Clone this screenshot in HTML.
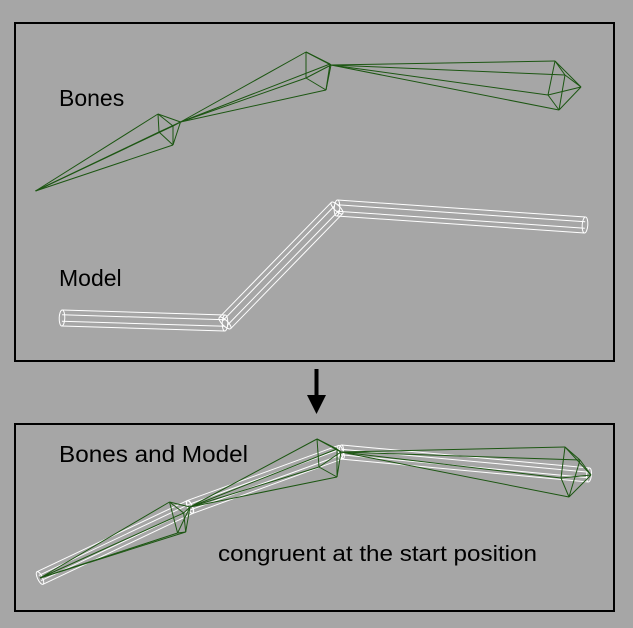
<!DOCTYPE html>
<html><head><meta charset="utf-8"><style>
html,body{margin:0;padding:0;background:#a6a6a6;}
svg{display:block;}
text{font-family:"Liberation Sans",sans-serif;fill:#000;}
</style></head><body>
<svg id="s" width="633" height="628" viewBox="0 0 633 628" xmlns="http://www.w3.org/2000/svg">
<rect x="0" y="0" width="633" height="628" fill="#a6a6a6"/>
<rect x="15" y="23" width="599" height="338" fill="none" stroke="#000" stroke-width="2"/>
<rect x="15" y="424" width="599" height="187" fill="none" stroke="#000" stroke-width="2"/>
<g>
<rect x="314.5" y="369" width="4" height="28" fill="#000"/>
<polygon points="307,395 326,395 316.5,414" fill="#000"/>
</g>
<text x="59" y="106" font-size="23">Bones</text>
<text x="59" y="286" font-size="23">Model</text>
<text x="59" y="462" font-size="23" textLength="189" lengthAdjust="spacingAndGlyphs">Bones and Model</text>
<text x="218" y="561" font-size="22" textLength="319" lengthAdjust="spacingAndGlyphs">congruent at the start position</text>
<g id="g1"></g>
<g id="g2"></g>
<g id="g3"></g>
<g id="g4"></g>
</svg>
<script>
var NS="http://www.w3.org/2000/svg";
var topBones=[
 {s:[35.5,191],b:[[158,114],[173,126],[173,145],[159,132]],e:[180.5,122]},
 {s:[180.5,122],b:[[306,52],[330,64],[326,90],[306,78]],e:[331,65]},
 {s:[331,65],b:[[555,61],[565,75],[559,110],[548,95]],e:[581,87]}
];
var botBones=[
 {s:[40,578],b:[[169.5,502],[183.7,513],[185.7,532],[177.6,533]],e:[190,507]},
 {s:[190,507],b:[[317,439],[337,449],[337,477],[319,467]],e:[341,452]},
 {s:[341,452],b:[[565,447],[580,460],[569,497],[561,478]],e:[591,475]}
];
var topModel=[[62,318],[225,323],[337,208],[585,225]];
var botModel=[[40,578],[190,507],[341,452],[589,475]];
function line(g,a,b,c,w){
 var l=document.createElementNS(NS,'line');
 
 
 l.setAttribute('x1',a[0]);l.setAttribute('y1',a[1]);l.setAttribute('x2',b[0]);l.setAttribute('y2',b[1]);
 l.setAttribute('stroke',c);l.setAttribute('stroke-width',w);
 g.appendChild(l);
}
function bone(g,B){
 var c='#1c5612';
 for(var i=0;i<4;i++){line(g,B.s,B.b[i],c,1);line(g,B.b[i],B.b[(i+1)%4],c,1);line(g,B.b[i],B.e,c,1);}
}
function tube(g,pts,r){
 for(var i=0;i<pts.length-1;i++){
  var p=pts[i],q=pts[i+1],dx=q[0]-p[0],dy=q[1]-p[1],L=Math.hypot(dx,dy),nx=-dy/L,ny=dx/L;
  [-r,-r*0.4,r*0.4,r].forEach(function(o){line(g,[p[0]+nx*o,p[1]+ny*o],[q[0]+nx*o,q[1]+ny*o],'#fff',1);});
  var ang=Math.atan2(dy,dx)*180/Math.PI;
  [p,q].forEach(function(c){
   var e=document.createElementNS(NS,'ellipse');
   
   
   e.setAttribute('cx',c[0]);e.setAttribute('cy',c[1]);e.setAttribute('rx',r*0.35);e.setAttribute('ry',r);
   e.setAttribute('transform','rotate('+ang+' '+c[0]+' '+c[1]+')');
   e.setAttribute('fill','none');e.setAttribute('stroke','#fff');e.setAttribute('stroke-width','1');
   g.appendChild(e);
  });
 }
}
topBones.forEach(function(B){bone(document.getElementById('g1'),B);});
tube(document.getElementById('g2'),topModel,8);
tube(document.getElementById('g3'),botModel,7);
botBones.forEach(function(B){bone(document.getElementById('g4'),B);});
</script>
</body></html>
